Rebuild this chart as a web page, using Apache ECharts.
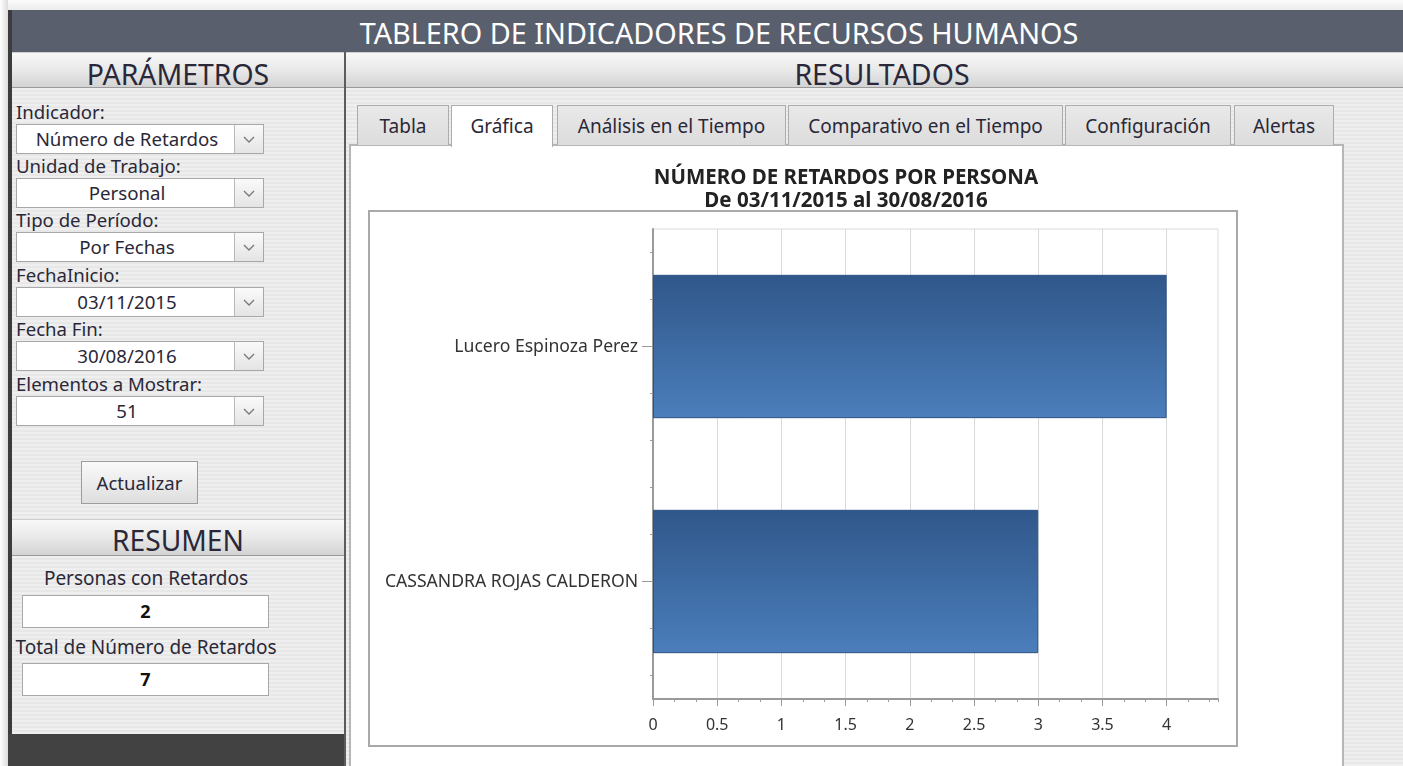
<!DOCTYPE html>
<html><head><meta charset="utf-8">
<script src="https://cdn.jsdelivr.net/npm/echarts@6/dist/echarts.min.js"></script>
<style>
html,body{margin:0;padding:0;}
body{width:1403px;height:766px;position:relative;overflow:hidden;background:linear-gradient(180deg,#fbfbfb 0,#ececec 10px,#f2f2f2 100%);font-family:"Noto Sans",sans-serif;color:#2a2838;}
.a{position:absolute;box-sizing:border-box;}
.stripe{background:repeating-linear-gradient(180deg,#efefef 0 2px,#e7e7e7 2px 4px);}
.hdr{background:linear-gradient(180deg,#f8f8f8 0%,#e9e9e9 50%,#d3d3d3 100%);border-bottom:1px solid #9a9a9a;border-top:1px solid #cfcfcf;}
.ct{text-align:center;white-space:nowrap;}
.lbl{font-size:18.6px;line-height:24px;left:16px;white-space:nowrap;}
.dd{left:16px;width:248px;height:30px;background:#fff;border:1px solid #a8a8a8;}
.dd .t{position:absolute;left:0;width:220px;top:0;line-height:28px;font-size:18.7px;text-align:center;white-space:nowrap;}
.dd .b{position:absolute;right:0;top:0;width:28px;height:28px;border-left:1px solid #b8b8b8;background:linear-gradient(180deg,#fafafa,#e4e4e4);}
.tab{top:105px;height:40px;background:linear-gradient(180deg,#e9e9e9,#dcdcdc);border:1px solid #acacac;border-bottom:none;font-size:19px;line-height:40px;text-align:center;white-space:nowrap;}
.box{left:22px;width:247px;height:33px;background:#fff;border:1px solid #a8a8a8;font-weight:bold;font-size:18px;line-height:31px;text-align:center;color:#111;}
</style>
</head>
<body>
<div class="a" style="left:0;top:0;width:8px;height:766px;background:linear-gradient(90deg,#ffffff,#dcdcdc);"></div>
<div class="a" style="left:8px;top:10px;width:4px;height:756px;background:#3c3c3c;"></div>
<div class="a" style="left:12px;top:10px;width:1391px;height:42px;background:#5a5f6e;"></div>
<div class="a ct" style="left:300px;top:10px;width:838px;height:42px;line-height:46px;font-size:28.8px;color:#fff;">TABLERO DE INDICADORES DE RECURSOS HUMANOS</div>

<div class="a hdr ct" style="left:12px;top:52px;width:332px;height:36px;font-size:28.4px;line-height:42px;">PARÁMETROS</div>
<div class="a" style="left:344px;top:52px;width:2px;height:714px;background:#5c5c5c;"></div>
<div class="a hdr ct" style="left:346px;top:52px;width:1072px;height:36px;font-size:28.5px;line-height:42px;">RESULTADOS</div>

<div class="a stripe" style="left:12px;top:88px;width:332px;height:431px;"></div>
<div class="a hdr ct" style="left:12px;top:519px;width:332px;height:37px;font-size:28.2px;line-height:40px;">RESUMEN</div>
<div class="a stripe" style="left:12px;top:556px;width:332px;height:178px;"></div>
<div class="a" style="left:8px;top:734px;width:336px;height:32px;background:#424242;"></div>
<div class="a stripe" style="left:346px;top:88px;width:1057px;height:678px;"></div>

<div class="a lbl" style="top:100px;">Indicador:</div>
<div class="a dd" style="top:124px;"><div class="t">Número de Retardos</div><div class="b"><svg width="28" height="28"><polyline points="9,12 14,17 19,12" fill="none" stroke="#777" stroke-width="1.3"/></svg></div></div>
<div class="a lbl" style="top:154px;">Unidad de Trabajo:</div>
<div class="a dd" style="top:178px;"><div class="t">Personal</div><div class="b"><svg width="28" height="28"><polyline points="9,12 14,17 19,12" fill="none" stroke="#777" stroke-width="1.3"/></svg></div></div>
<div class="a lbl" style="top:208px;">Tipo de Período:</div>
<div class="a dd" style="top:232px;"><div class="t">Por Fechas</div><div class="b"><svg width="28" height="28"><polyline points="9,12 14,17 19,12" fill="none" stroke="#777" stroke-width="1.3"/></svg></div></div>
<div class="a lbl" style="top:263px;">FechaInicio:</div>
<div class="a dd" style="top:287px;"><div class="t">03/11/2015</div><div class="b"><svg width="28" height="28"><polyline points="9,12 14,17 19,12" fill="none" stroke="#777" stroke-width="1.3"/></svg></div></div>
<div class="a lbl" style="top:317px;">Fecha Fin:</div>
<div class="a dd" style="top:341px;"><div class="t">30/08/2016</div><div class="b"><svg width="28" height="28"><polyline points="9,12 14,17 19,12" fill="none" stroke="#777" stroke-width="1.3"/></svg></div></div>
<div class="a lbl" style="top:372px;">Elementos a Mostrar:</div>
<div class="a dd" style="top:396px;"><div class="t">51</div><div class="b"><svg width="28" height="28"><polyline points="9,12 14,17 19,12" fill="none" stroke="#777" stroke-width="1.3"/></svg></div></div>

<div class="a ct" style="left:81px;top:461px;width:117px;height:43px;border:1px solid #9c9c9c;background:linear-gradient(180deg,#fafafa,#dedede);font-size:18.6px;line-height:41px;">Actualizar</div>

<div class="a ct" style="left:0;top:566px;width:292px;font-size:19px;line-height:24px;">Personas con Retardos</div>
<div class="a box" style="top:595px;">2</div>
<div class="a ct" style="left:0;top:635px;width:292px;font-size:19px;line-height:24px;">Total de Número de Retardos</div>
<div class="a box" style="top:663px;">7</div>

<div class="a" style="left:349px;top:144px;width:995px;height:630px;background:#fff;border:2px solid #b6b6b6;"></div>
<div class="a tab" style="left:357px;width:92px;">Tabla</div>
<div class="a tab" style="left:451px;width:102px;height:42px;background:#fff;">Gráfica</div>
<div class="a tab" style="left:557px;width:229px;">Análisis en el Tiempo</div>
<div class="a tab" style="left:788px;width:275px;">Comparativo en el Tiempo</div>
<div class="a tab" style="left:1065px;width:166px;">Configuración</div>
<div class="a tab" style="left:1234px;width:100px;">Alertas</div>

<div id="chart" class="a" style="left:349px;top:146px;width:994px;height:620px;"></div>

<script>
// ---- data ----
const tituloLinea1 = 'NÚMERO DE RETARDOS POR PERSONA';
const tituloLinea2 = 'De 03/11/2015 al 30/08/2016';
const personas = ['Lucero Espinoza Perez', 'CASSANDRA ROJAS CALDERON'];
const retardos = [4, 3];
const xTickValues = [0, 0.5, 1, 1.5, 2, 2.5, 3, 3.5, 4];
const yMinorSlots = ['', '', '', '', '', '', '', '', '', ''];

const chart = echarts.init(document.getElementById('chart'), null, {renderer: 'canvas'});
const axisGray = '#9a9a9a';
chart.setOption({
  animation: false,
  textStyle: {fontFamily: 'Noto Sans'},
  title: {
    text: tituloLinea1 + '\n' + tituloLinea2,
    left: 'center', top: 16,
    textStyle: {fontFamily: 'Noto Sans', fontSize: 20.5, fontWeight: 'bold', color: '#222', lineHeight: 23}
  },
  graphic: [{
    type: 'rect', z: -10, silent: true,
    shape: {x: 20, y: 65, width: 868, height: 535},
    style: {fill: '#fff', stroke: '#a9a9a9', lineWidth: 2}
  }],
  grid: {left: 304, top: 83, width: 565, height: 470, show: true, borderColor: '#dadada', borderWidth: 1, backgroundColor: 'transparent'},
  xAxis: [{
    type: 'value', min: 0, max: 4.4, interval: 0.5,
    axisLine: {show: true, lineStyle: {color: axisGray, width: 2}},
    axisTick: {show: true, length: 7, customValues: xTickValues, lineStyle: {color: axisGray}},
    axisLabel: {customValues: xTickValues, color: '#333', fontSize: 16, margin: 18},
    splitLine: {show: true, lineStyle: {color: '#dadada'}}
  }, {
    type: 'value', min: 0, max: 26.4, interval: 1, position: 'bottom',
    axisLine: {show: false},
    axisTick: {show: true, length: 3, lineStyle: {color: axisGray}},
    axisLabel: {show: false}, splitLine: {show: false}
  }],
  yAxis: [{
    type: 'category', data: personas, inverse: true,
    axisLine: {show: true, lineStyle: {color: axisGray, width: 2}},
    axisTick: {show: true, alignWithLabel: true, length: 11, lineStyle: {color: axisGray}},
    axisLabel: {color: '#333', fontSize: 17.6, margin: 15},
    splitLine: {show: false}
  }, {
    type: 'category', data: yMinorSlots, position: 'left',
    axisLine: {show: false},
    axisTick: {show: true, alignWithLabel: true, length: 3, lineStyle: {color: axisGray}},
    axisLabel: {show: false}, splitLine: {show: false}
  }],
  series: [{
    type: 'bar', data: retardos, xAxisIndex: 0, yAxisIndex: 0, barWidth: '61%',
    itemStyle: {
      color: new echarts.graphic.LinearGradient(0, 0, 0, 1, [
        {offset: 0, color: '#30578a'}, {offset: 1, color: '#4b7ebb'}
      ]),
      borderColor: '#2d5282', borderWidth: 1
    }
  }]
});
</script>
</body></html>
